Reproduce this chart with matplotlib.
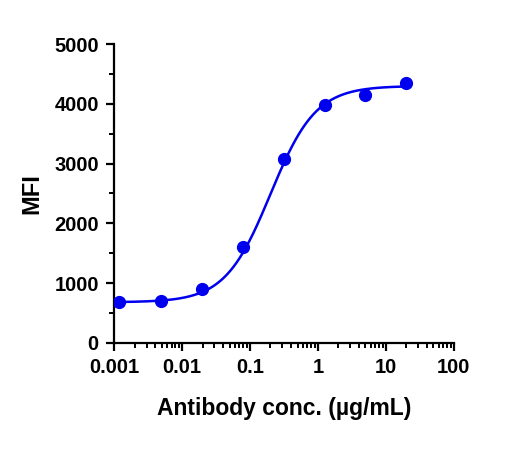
import numpy as np
import matplotlib.pyplot as plt
from matplotlib.ticker import MultipleLocator, LogLocator, NullFormatter, FixedLocator, FixedFormatter

plt.rcParams['font.family'] = ['Liberation Sans', 'DejaVu Sans']
plt.rcParams['font.weight'] = 'bold'

conc = [0.0012, 0.0049, 0.0195, 0.078, 0.3125, 1.25, 5, 20]
mfi = [680, 695, 910, 1610, 3080, 3975, 4155, 4345]

# 4PL fit parameters
bottom = 680
top = 4300
ec50 = 0.2
hill = 1.3

x_ticks = [0.001, 0.01, 0.1, 1, 10, 100]
x_labels = ['0.001', '0.01', '0.1', '1', '10', '100']

blue = '#0000ee'

fig = plt.figure(figsize=(5.14, 4.5), dpi=100)
ax = fig.add_axes([0.222, 0.238, 0.661, 0.664])

xs = np.logspace(np.log10(0.001), np.log10(20), 300)
ys = bottom + (top - bottom) / (1 + (ec50 / xs) ** hill)
ax.plot(xs, ys, color=blue, lw=1.8, zorder=3)
ax.plot(conc, mfi, 'o', color=blue, ms=8.5, zorder=4)

ax.set_xscale('log')
ax.set_xlim(0.001, 100)
ax.set_ylim(0, 5000)
ax.xaxis.set_major_locator(FixedLocator(x_ticks))
ax.xaxis.set_major_formatter(FixedFormatter(x_labels))
ax.xaxis.set_minor_locator(LogLocator(base=10, subs=np.arange(2, 10)))
ax.xaxis.set_minor_formatter(NullFormatter())
ax.yaxis.set_major_locator(MultipleLocator(1000))
ax.yaxis.set_minor_locator(MultipleLocator(500))

for s in ['top', 'right']:
    ax.spines[s].set_visible(False)
for s in ['left', 'bottom']:
    ax.spines[s].set_linewidth(1.6)
ax.tick_params(which='major', length=6, width=1.6, labelsize=14.5, pad=5)
ax.tick_params(which='minor', length=3.5, width=1.4)
for lab in ax.get_xticklabels() + ax.get_yticklabels():
    lab.set_fontweight('bold')

ax.set_xlabel('Antibody conc. (µg/mL)', fontsize=16.5, fontweight='bold', labelpad=14)
ax.set_ylabel('MFI', fontsize=17, fontweight='bold', labelpad=8)

fig.savefig('out.png', dpi=100)
